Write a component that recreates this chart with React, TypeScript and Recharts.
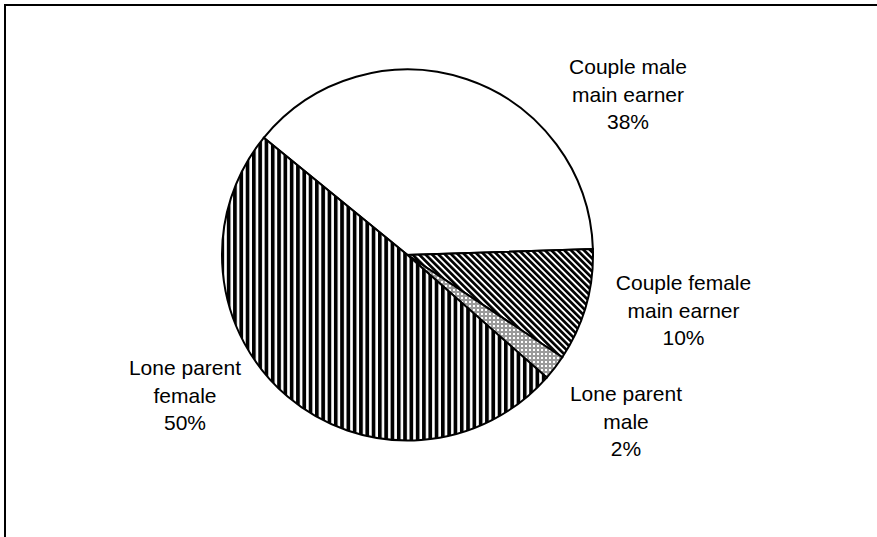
import React from 'react';
import { PieChart, Pie, Cell } from 'recharts';

const categories = [
  ['Couple male', 'main earner'],
  ['Couple female', 'main earner'],
  ['Lone parent', 'male'],
  ['Lone parent', 'female'],
];
const shares = [38.6, 9.8, 2.2, 49.4];
const percentLabels = ['38%', '10%', '2%', '50%'];

const fills = ['#ffffff', 'url(#patDiag)', 'url(#patGrid)', 'url(#patVert)'];
const labelOffsets = [
  { dx: 220.5, dy: -160.8 },
  { dx: 276, dy: 55 },
  { dx: 218.5, dy: 166 },
  { dx: -222.5, dy: 140 },
];
const LINE_GAP = 27.3;

const data = categories.map((c, i) => ({
  name: c.join(' '),
  lines: [...c, percentLabels[i]],
  value: shares[i],
}));

const renderLabel = (props: any) => {
  const { cx, cy, index } = props;
  const off = labelOffsets[index];
  const x = cx + off.dx;
  const y = cy + off.dy;
  const lines: string[] = data[index].lines;
  return (
    <text
      key={`lbl-${index}`}
      x={x}
      y={y}
      textAnchor="middle"
      fill="#000"
      fontSize={21}
      fontFamily="'Liberation Sans', Arial, sans-serif"
    >
      {lines.map((t, k) => (
        <tspan key={k} x={x} y={y + (k - 1) * LINE_GAP} dominantBaseline="central">
          {t}
        </tspan>
      ))}
    </text>
  );
};

export default function App() {
  return (
    <div style={{ position: 'absolute', left: 0, top: 0, width: 877, height: 537, overflow: 'hidden', background: '#fff' }}>
      <svg width={0} height={0} style={{ position: 'absolute' }}>
        <defs>
          <pattern id="patVert" patternUnits="userSpaceOnUse" width={6.3} height={6.3}>
            <rect x={0} y={0} width={6.3} height={6.3} fill="#fff" />
            <rect x={0} y={0} width={3.7} height={6.3} fill="#000" />
          </pattern>
          <pattern id="patDiag" patternUnits="userSpaceOnUse" width={4.6} height={4.6} patternTransform="rotate(-45)">
            <rect x={0} y={0} width={4.6} height={4.6} fill="#fff" />
            <rect x={0} y={0} width={2.7} height={4.6} fill="#000" />
          </pattern>
          <pattern id="patGrid" patternUnits="userSpaceOnUse" width={4} height={4}>
            <rect x={0} y={0} width={4} height={4} fill="#9a9a9a" />
            <rect x={1} y={1} width={2} height={2} fill="#ffffff" />
          </pattern>
        </defs>
      </svg>
      <div
        style={{
          position: 'absolute',
          left: 4,
          top: 4,
          width: 1000,
          height: 1000,
          border: '2px solid #000',
          boxSizing: 'border-box',
        }}
      />
      <div style={{ position: 'absolute', left: 0, top: 0 }}>
        <PieChart width={877} height={537} margin={{ top: 0, right: 0, bottom: 0, left: 0 }}>
          <Pie
            data={data}
            dataKey="value"
            nameKey="name"
            cx={407.5}
            cy={255}
            outerRadius={185.5}
            startAngle={140.8}
            endAngle={-219.2}
            stroke="#000"
            strokeWidth={2}
            label={renderLabel}
            labelLine={false}
            isAnimationActive={false}
          >
            {data.map((d, i) => (
              <Cell key={d.name} fill={fills[i]} stroke="#000" strokeWidth={2} />
            ))}
          </Pie>
        </PieChart>
      </div>
    </div>
  );
}
